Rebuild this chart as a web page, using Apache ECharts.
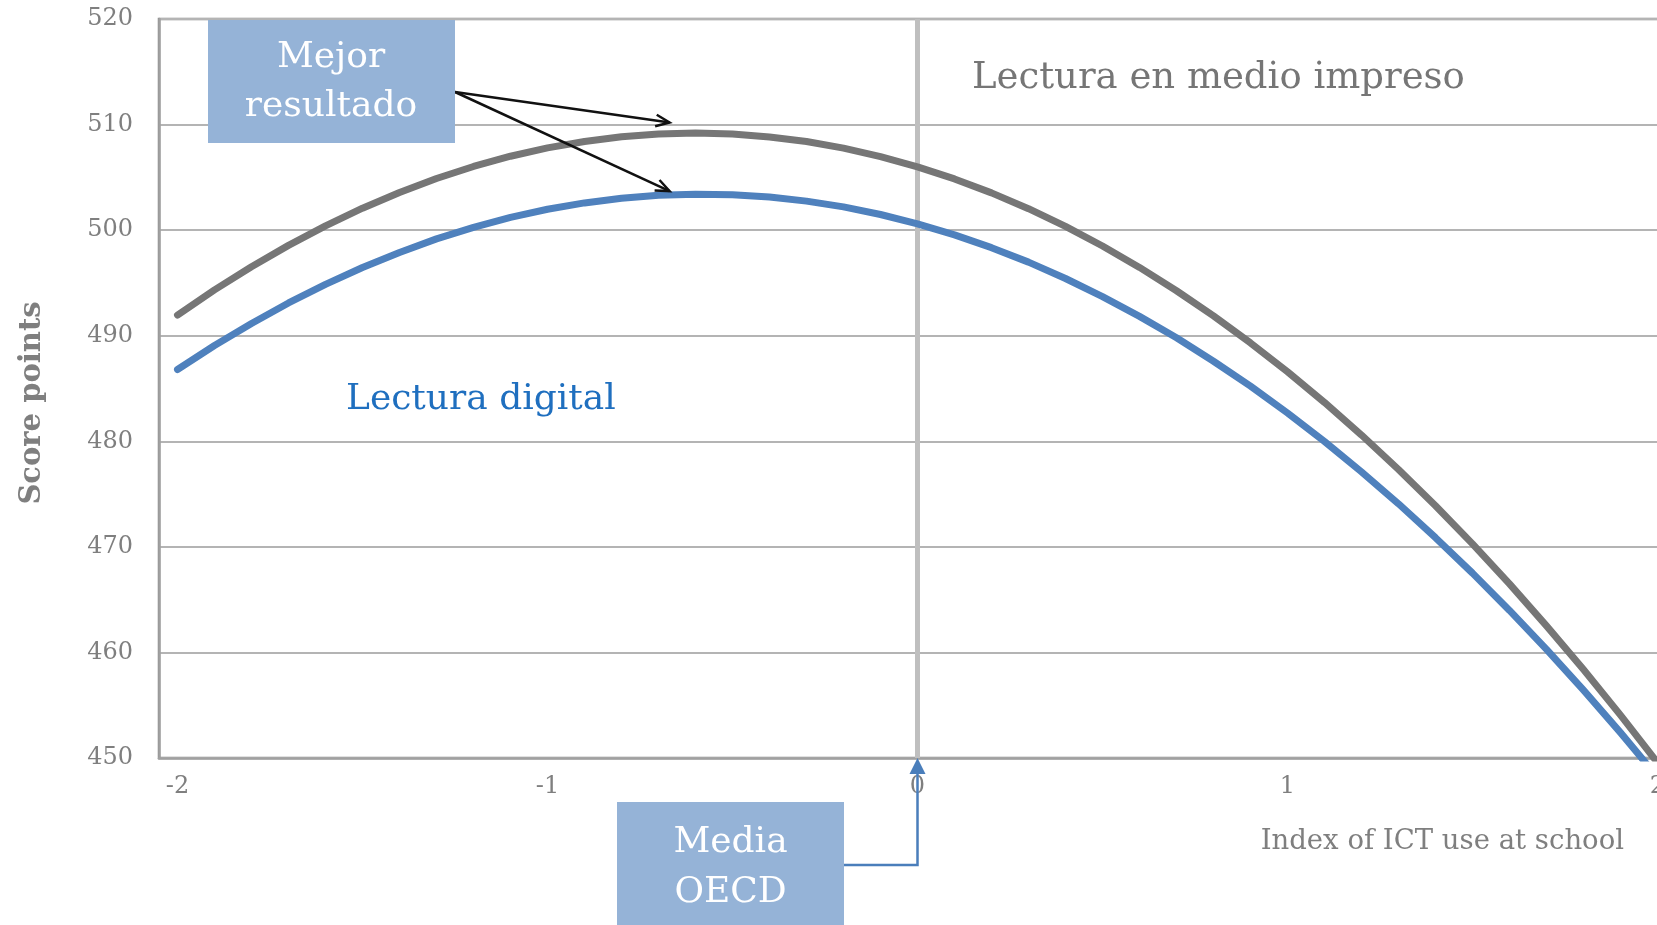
<!DOCTYPE html>
<html>
<head>
<meta charset="utf-8">
<script src="https://cdn.jsdelivr.net/npm/echarts@6/dist/echarts.min.js"></script>
<style>
  html, body { margin: 0; padding: 0; background: #ffffff; overflow: hidden; }
  #chart { width: 1700px; height: 925px; }
</style>
</head>
<body>
<div id="chart"></div>
<script>
// Index of ICT use at school, in steps of 0.1
const categories = [
  '-2', '-1.9', '-1.8', '-1.7', '-1.6', '-1.5', '-1.4', '-1.3', '-1.2', '-1.1',
  '-1', '-0.9', '-0.8', '-0.7', '-0.6', '-0.5', '-0.4', '-0.3', '-0.2', '-0.1',
  '0', '0.1', '0.2', '0.3', '0.4', '0.5', '0.6', '0.7', '0.8', '0.9',
  '1', '1.1', '1.2', '1.3', '1.4', '1.5', '1.6', '1.7', '1.8', '1.9', '2'
];

// Lectura en medio impreso (score points)
const printReading = [
  491.96, 494.34, 496.54, 498.56, 500.41, 502.08, 503.57, 504.89, 506.03, 507.00,
  507.79, 508.40, 508.84, 509.10, 509.19, 509.10, 508.83, 508.39, 507.77, 506.97,
  506.00, 504.85, 503.53, 502.03, 500.35, 498.50, 496.47, 494.26, 491.88, 489.32,
  486.59, 483.68, 480.59, 477.33, 473.89, 470.28, 466.49, 462.52, 458.38, 454.06, 449.56
];

// Lectura digital (score points)
const digitalReading = [
  486.80, 489.07, 491.16, 493.10, 494.86, 496.46, 497.89, 499.17, 500.26, 501.21,
  501.98, 502.58, 503.02, 503.30, 503.41, 503.36, 503.14, 502.75, 502.20, 501.48,
  500.60, 499.55, 498.34, 496.97, 495.42, 493.71, 491.83, 489.80, 487.58, 485.22,
  482.68, 479.98, 477.10, 474.08, 470.87, 467.51, 463.98, 460.29, 456.42, 452.40, 448.20
];

// Y axis range and tick step
const yMin = 450;
const yMax = 520;
const yStep = 10;

const FONT = 'DejaVu Serif';
const GREY_TEXT = '#7f7f7f';

const chart = echarts.init(document.getElementById('chart'), null, { renderer: 'canvas' });

chart.setOption({
  animation: false,
  backgroundColor: '#ffffff',
  grid: {
    left: 159, top: 19, width: 1517, bottom: 167,
    show: true, borderColor: '#888888', borderWidth: 2.5, backgroundColor: 'transparent'
  },
  xAxis: {
    type: 'category',
    data: categories,
    boundaryGap: true,
    axisLine: { show: true, lineStyle: { color: '#a0a0a0', width: 2.5 } },
    axisTick: { show: false },
    axisLabel: {
      interval: 9,
      color: GREY_TEXT, fontFamily: FONT, fontSize: 24, margin: 17
    },
    splitLine: { show: false }
  },
  yAxis: {
    type: 'value',
    min: yMin, max: yMax, interval: yStep,
    axisLine: { show: true, lineStyle: { color: '#a0a0a0', width: 2.5 } },
    axisTick: { show: false },
    axisLabel: { color: GREY_TEXT, fontFamily: FONT, fontSize: 24, margin: 26 },
    splitLine: { show: true, lineStyle: { color: '#b4b4b4', width: 2 } }
  },
  series: [
    {
      name: 'Lectura en medio impreso',
      type: 'line',
      data: printReading,
      smooth: false,
      showSymbol: false,
      clip: true,
      z: 3,
      lineStyle: { color: '#767676', width: 7, cap: 'round', join: 'round' },
      markLine: {
        silent: true,
        symbol: 'none',
        label: { show: false },
        lineStyle: { color: '#bfbfbf', width: 5, type: 'solid' },
        data: [{ xAxis: '0' }],
        z: 1
      }
    },
    {
      name: 'Lectura digital',
      type: 'line',
      data: digitalReading,
      smooth: false,
      showSymbol: false,
      clip: true,
      z: 4,
      lineStyle: { color: '#4f81bd', width: 7, cap: 'round', join: 'round' }
    }
  ]
});

// Annotation boxes, arrows and titles
const px = (cat, val) => chart.convertToPixel({ gridIndex: 0 }, [cat, val]);
const lerp = (a, b, t) => [a[0] + (b[0] - a[0]) * t, a[1] + (b[1] - a[1]) * t];
const arrowFrom = [455, 92];
const tipPrint = lerp(px('-0.7', 510.2), px('-0.6', 510.2), 0.3);
const tipDigital = lerp(px('-0.7', 503.7), px('-0.6', 503.7), 0.3);
const zeroBase = px('0', yMin);

function arrowHead(tip, from, len, spread) {
  const ang = Math.atan2(tip[1] - from[1], tip[0] - from[0]);
  const a1 = ang + Math.PI - spread, a2 = ang + Math.PI + spread;
  return [
    [tip[0] + len * Math.cos(a1), tip[1] + len * Math.sin(a1)],
    tip,
    [tip[0] + len * Math.cos(a2), tip[1] + len * Math.sin(a2)]
  ];
}

const boxFill = '#95b3d7';
const media = { x: 617, y: 802, w: 227, h: 130 };
const elbowY = 865;

chart.setOption({
  graphic: [
    // "Mejor resultado" box
    { type: 'rect', shape: { x: 208, y: 20, width: 247, height: 123 }, style: { fill: boxFill }, z: 10 },
    { type: 'text', x: 331, y: 58, style: { text: 'Mejor', fill: '#ffffff', font: '36px "DejaVu Serif"', align: 'center', verticalAlign: 'middle' }, z: 11 },
    { type: 'text', x: 331, y: 107, style: { text: 'resultado', fill: '#ffffff', font: '36px "DejaVu Serif"', align: 'center', verticalAlign: 'middle' }, z: 11 },
    // arrows to the two peaks
    { type: 'line', shape: { x1: arrowFrom[0], y1: arrowFrom[1], x2: tipPrint[0], y2: tipPrint[1] }, style: { stroke: '#111111', lineWidth: 2.5 }, z: 9 },
    { type: 'line', shape: { x1: arrowFrom[0], y1: arrowFrom[1], x2: tipDigital[0], y2: tipDigital[1] }, style: { stroke: '#111111', lineWidth: 2.5 }, z: 9 },
    { type: 'polyline', shape: { points: arrowHead(tipPrint, arrowFrom, 15, 0.4) }, style: { stroke: '#111111', lineWidth: 2.5, fill: null }, z: 9 },
    { type: 'polyline', shape: { points: arrowHead(tipDigital, arrowFrom, 15, 0.4) }, style: { stroke: '#111111', lineWidth: 2.5, fill: null }, z: 9 },
    // series titles
    { type: 'text', x: 972, y: 78, style: { text: 'Lectura en medio impreso', fill: '#767676', font: '37px "DejaVu Serif"', verticalAlign: 'middle' }, z: 11 },
    { type: 'text', x: 346, y: 400, style: { text: 'Lectura digital', fill: '#1f6fbf', font: '36px "DejaVu Serif"', verticalAlign: 'middle' }, z: 11 },
    // axis titles
    { type: 'text', x: 32, y: 403, rotation: Math.PI / 2, style: { text: 'Score points', fill: GREY_TEXT, font: 'bold 29px "DejaVu Serif"', align: 'center', verticalAlign: 'middle' }, z: 11 },
    { type: 'text', x: 1624, y: 842, style: { text: 'Index of ICT use at school', fill: GREY_TEXT, font: '27.5px "DejaVu Serif"', align: 'right', verticalAlign: 'middle' }, z: 11 },
    // "Media OECD" box and elbow arrow to the axis at 0
    { type: 'rect', shape: { x: media.x, y: media.y, width: media.w, height: media.h }, style: { fill: boxFill }, z: 10 },
    { type: 'text', x: media.x + media.w / 2, y: 843, style: { text: 'Media', fill: '#ffffff', font: '36px "DejaVu Serif"', align: 'center', verticalAlign: 'middle' }, z: 11 },
    { type: 'text', x: media.x + media.w / 2, y: 893, style: { text: 'OECD', fill: '#ffffff', font: '36px "DejaVu Serif"', align: 'center', verticalAlign: 'middle' }, z: 11 },
    { type: 'polyline', shape: { points: [[media.x + media.w, elbowY], [zeroBase[0], elbowY], [zeroBase[0], zeroBase[1] + 14]] }, style: { stroke: '#4a7ebb', lineWidth: 2.5, fill: null }, z: 9 },
    { type: 'polygon', shape: { points: [[zeroBase[0], zeroBase[1]], [zeroBase[0] - 8, zeroBase[1] + 16], [zeroBase[0] + 8, zeroBase[1] + 16]] }, style: { fill: '#4a7ebb' }, z: 9 }
  ]
});
</script>
</body>
</html>
